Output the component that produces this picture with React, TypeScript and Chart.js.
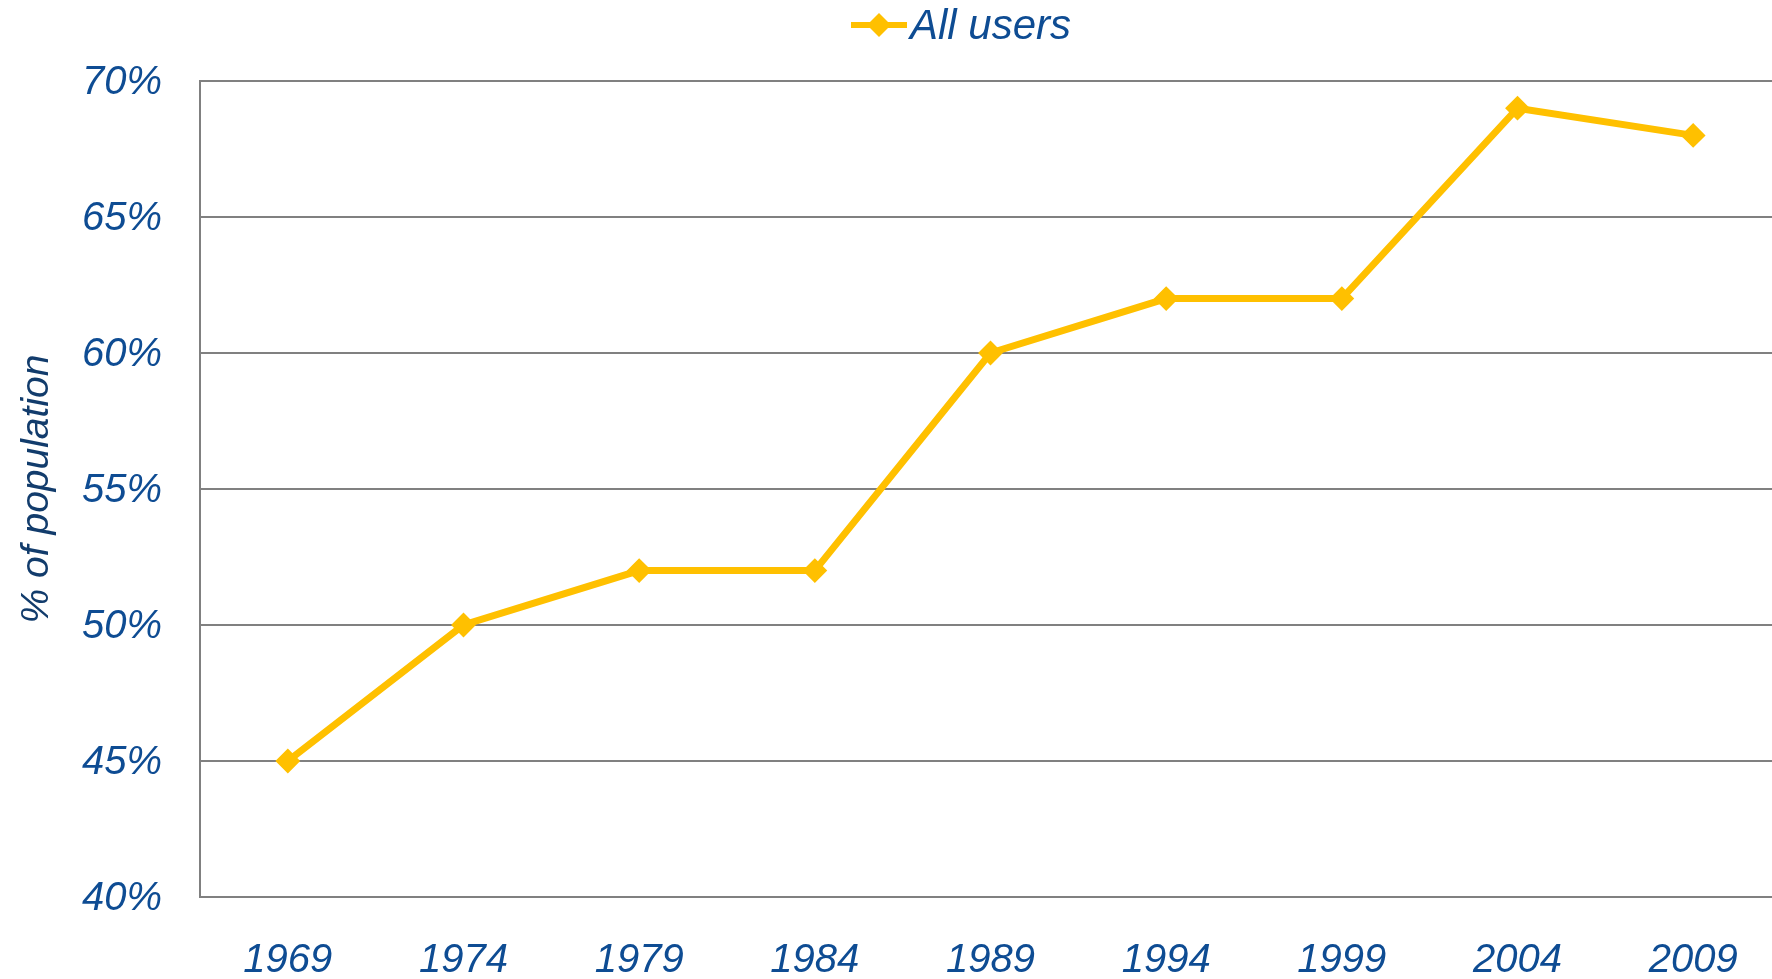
import React, { useEffect, useRef } from "react";
import { Chart, registerables } from "chart.js";

Chart.register(...registerables);

const years = ["1969", "1974", "1979", "1984", "1989", "1994", "1999", "2004", "2009"];
const allUsers = [45, 50, 52, 52, 60, 62, 62, 69, 68];
const seriesLabel = "All users";
const yAxisTitle = "% of population";

const LINE_COLOR = "#FFC000";
const TICK_COLOR = "#0E4C93";
const TITLE_COLOR = "#123C6C";
const GRID_COLOR = "#808080";
const FONT = "'Liberation Sans', Arial, sans-serif";

const legendPlugin = {
  id: "customLegend",
  afterDraw(chart: any) {
    const ctx = chart.ctx;
    ctx.save();
    const y = 25;
    ctx.strokeStyle = LINE_COLOR;
    ctx.lineWidth = 6;
    ctx.beginPath();
    ctx.moveTo(851, y);
    ctx.lineTo(907, y);
    ctx.stroke();
    ctx.fillStyle = LINE_COLOR;
    ctx.beginPath();
    const cx = 879, r = 12;
    ctx.moveTo(cx - r, y);
    ctx.lineTo(cx, y - r);
    ctx.lineTo(cx + r, y);
    ctx.lineTo(cx, y + r);
    ctx.closePath();
    ctx.fill();
    ctx.fillStyle = TICK_COLOR;
    ctx.font = `italic 42px ${FONT}`;
    ctx.textBaseline = "middle";
    ctx.textAlign = "left";
    ctx.fillText(seriesLabel, 910, 27);
    ctx.restore();
  },
};

export default function App() {
  const canvasRef = useRef<HTMLCanvasElement | null>(null);

  useEffect(() => {
    const canvas = canvasRef.current;
    if (!canvas) return;
    const chart = new Chart(canvas, {
      type: "line",
      data: {
        labels: years,
        datasets: [
          {
            label: seriesLabel,
            data: allUsers,
            borderColor: LINE_COLOR,
            backgroundColor: LINE_COLOR,
            borderWidth: 7,
            pointStyle: "rectRot",
            pointRadius: 11,
            pointBorderWidth: 2,
            pointBackgroundColor: LINE_COLOR,
            pointBorderColor: LINE_COLOR,
            tension: 0,
          },
        ],
      },
      options: {
        responsive: false,
        animation: false,
        layout: { padding: { top: 81, left: 0, right: 0, bottom: 0 } },
        plugins: {
          legend: { display: false },
          tooltip: { enabled: false },
        },
        scales: {
          x: {
            offset: true,
            grid: { display: false, drawTicks: false },
            border: { display: true, color: GRID_COLOR, width: 2 },
            ticks: {
              color: TICK_COLOR,
              font: { family: FONT, size: 40, style: "italic", lineHeight: 1.2 },
              padding: 40,
              maxRotation: 0,
              autoSkip: false,
            },
            afterFit: (scale: any) => {
              scale.height = 82;
            },
          },
          y: {
            min: 40,
            max: 70,
            grid: { color: GRID_COLOR, lineWidth: 2, drawTicks: false },
            border: { display: true, color: GRID_COLOR, width: 2 },
            ticks: {
              stepSize: 5,
              color: TICK_COLOR,
              font: { family: FONT, size: 40, style: "italic", lineHeight: 1.2 },
              padding: 38,
              labelOffset: 2,
              callback: (v: any) => `${v}%`,
            },
            title: {
              display: true,
              text: yAxisTitle,
              color: TITLE_COLOR,
              font: { family: FONT, size: 39, style: "italic", lineHeight: 1.2 },
              padding: { top: 14, bottom: 0 },
            },
            afterFit: (scale: any) => {
              scale.width = 200;
            },
          },
        },
      },
      plugins: [legendPlugin],
    });
    return () => chart.destroy();
  }, []);

  return (
    <div
      style={{
        position: "fixed",
        left: 0,
        top: 0,
        width: 1772,
        height: 979,
        overflow: "hidden",
        background: "#ffffff",
      }}
    >
      <canvas ref={canvasRef} width={1794} height={979} style={{ display: "block" }} />
    </div>
  );
}
